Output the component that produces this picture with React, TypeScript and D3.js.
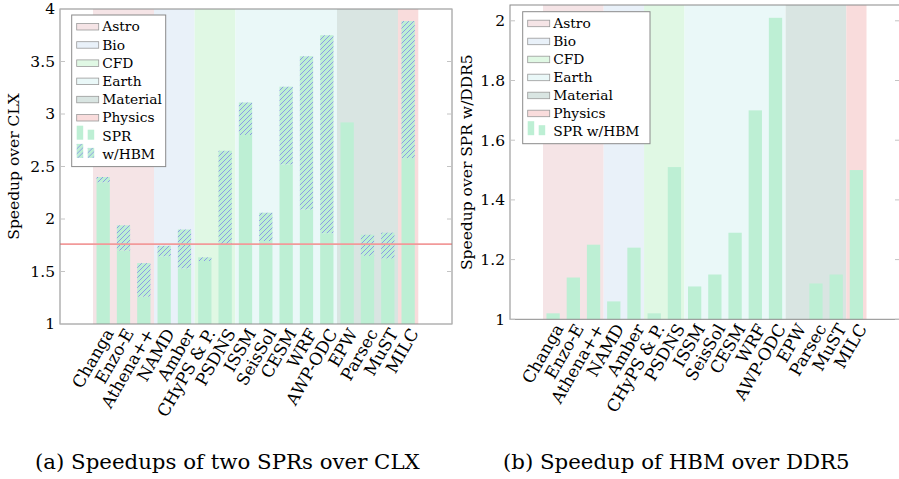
import React from "react";
import * as d3 from "d3";

const categories = ["Changa", "Enzo-E", "Athena++", "NAMD", "Amber", "CHyPS & P.", "PSDNS", "ISSM", "SeisSol", "CESM", "WRF", "AWP-ODC", "EPW", "Parsec", "MuST", "MILC"];
const domains = ["Astro", "Astro", "Astro", "Bio", "Bio", "CFD", "CFD", "Earth", "Earth", "Earth", "Earth", "Earth", "Material", "Material", "Material", "Physics"];
const domainNames = ["Astro", "Bio", "CFD", "Earth", "Material", "Physics"];
const domainColors = ["#f5e4e6", "#e9f1f9", "#e0f8e4", "#eaf8f8", "#d9e5e2", "#f9dcdc"];
const sprValues = [2.35, 1.70, 1.26, 1.645, 1.53, 1.60, 1.755, 2.80, 1.79, 2.52, 2.09, 1.865, 2.92, 1.65, 1.625, 2.58];
const hbmValues = [2.40, 1.94, 1.58, 1.745, 1.90, 1.635, 2.65, 3.11, 2.06, 3.26, 3.55, 3.75, 2.92, 1.85, 1.87, 3.885];
const ratioValues = [1.02, 1.14, 1.25, 1.06, 1.24, 1.02, 1.51, 1.11, 1.15, 1.29, 1.70, 2.01, 1.0, 1.12, 1.15, 1.50];
const leftTicks = [1, 1.5, 2, 2.5, 3, 3.5, 4];
const rightTicks = [1, 1.2, 1.4, 1.6, 1.8, 2];
const refLine = 1.76;

const FONT = "'DejaVu Serif', serif";
const BAR = "#bdefd4";
const HATCH = "#8c9ce4";
const AXIS = "#8a8a8a";
const TICK_FS = 15.5;
const XLAB_FS = 16.8;
const LEG_FS = 13.8;
const CAP_FS = 21.3;

function Panel(props: {
  x0: number; x1: number; yTop: number; yBot: number;
  rangeStart: number; rangeEnd: number;
  yDomain: [number, number]; ticks: number[]; tickFmt: (v: number) => string;
  base: number[]; top: number[] | null; yLabel: string; refV?: number;
  legendX: number; legendY: number; legendW: number; legendStep: number; barLegend: string[];
  caption: string; captionX: number; captionY: number; labelX: number;
}) {
  const p = props;
  const x = d3.scaleBand<string>().domain(categories).range([p.rangeStart, p.rangeEnd]).padding(0);
  const y = d3.scaleLinear().domain(p.yDomain).range([p.yBot, p.yTop]);
  const bw = 13.3;
  const groups: { name: string; start: number; end: number }[] = [];
  domains.forEach((d, i) => {
    const last = groups[groups.length - 1];
    if (last && last.name === d) last.end = i;
    else groups.push({ name: d, start: i, end: i });
  });
  const y0 = p.yDomain[0];
  return (
    <g>
      {groups.map((g) => (
        <rect key={g.name + g.start} x={x(categories[g.start])!} width={x(categories[g.end])! + x.bandwidth() - x(categories[g.start])!}
          y={p.yTop} height={p.yBot - p.yTop} fill={domainColors[domainNames.indexOf(g.name)]} />
      ))}
      {categories.map((c, i) => {
        const cx = x(c)! + x.bandwidth() / 2;
        const b = p.base[i];
        const els = [
          <rect key={c + "b"} x={cx - bw / 2} width={bw} y={y(b)} height={y(y0) - y(b)} fill={BAR} />,
        ];
        if (p.top && p.top[i] > b) {
          els.push(<rect key={c + "t"} x={cx - bw / 2} width={bw} y={y(p.top[i])} height={y(b) - y(p.top[i])} fill="url(#hatch)" />);
        }
        return <g key={c}>{els}</g>;
      })}
      {p.refV !== undefined && (
        <line x1={p.x0} x2={p.x1} y1={y(p.refV)} y2={y(p.refV)} stroke="#f29a9a" strokeWidth={1.8} />
      )}
      <rect x={p.x0} y={p.yTop} width={p.x1 - p.x0} height={p.yBot - p.yTop} fill="none" stroke={AXIS} strokeWidth={1} />
      {p.ticks.map((t) => (
        <g key={t}>
          <line x1={p.x0} x2={p.x0 + 5} y1={y(t)} y2={y(t)} stroke="#c4c4c4" />
          <line x1={p.x1 - 5} x2={p.x1} y1={y(t)} y2={y(t)} stroke="#c4c4c4" />
          <text x={p.x0 - 5} y={y(t)} dy="0.35em" textAnchor="end" fontSize={TICK_FS} fontFamily={FONT}>{p.tickFmt(t)}</text>
        </g>
      ))}
      {categories.map((c) => {
        const cx = x(c)! + x.bandwidth() / 2;
        return (
          <text key={c} transform={`translate(${cx + 11},${p.yBot + 9}) rotate(-60)`} textAnchor="end" fontSize={XLAB_FS} fontFamily={FONT}>{c}</text>
        );
      })}
      <text transform={`translate(${p.labelX},${(p.yTop + p.yBot) / 2}) rotate(-90)`} textAnchor="middle" fontSize={TICK_FS} fontFamily={FONT}>{p.yLabel}</text>
      <g transform={`translate(${p.legendX},${p.legendY})`}>
        <rect x={0} y={0} width={p.legendW} height={p.legendStep * (domainNames.length + p.barLegend.length) + 6} fill="white" stroke={AXIS} />
        {domainNames.map((d, i) => (
          <g key={d} transform={`translate(0,${11.5 + i * p.legendStep})`}>
            <rect x={5} y={-3} width={22} height={6.5} fill={domainColors[i]} stroke="#999" strokeWidth={0.8} />
            <text x={30.5} y={0} dy="0.35em" fontSize={LEG_FS} fontFamily={FONT}>{d}</text>
          </g>
        ))}
        {p.barLegend.map((d, j) => (
          <g key={d} transform={`translate(0,${11.5 + (domainNames.length + j) * p.legendStep})`}>
            <rect x={5} y={-10} width={6.5} height={14} fill={j === 0 ? BAR : "url(#hatch)"} />
            <rect x={16} y={-6} width={6.5} height={10} fill={j === 0 ? BAR : "url(#hatch)"} />
            <text x={30.5} y={0} dy="0.35em" fontSize={LEG_FS} fontFamily={FONT}>{d}</text>
          </g>
        ))}
      </g>
      <text x={p.captionX} y={p.captionY} fontSize={CAP_FS} fontFamily={FONT}>{p.caption}</text>
    </g>
  );
}

export default function App() {
  return (
    <svg width={899} height={479} style={{ position: "absolute", left: 0, top: 0, background: "white" }}>
      <defs>
        <pattern id="hatch" patternUnits="userSpaceOnUse" width={5} height={5}>
          <rect width={5} height={5} fill={BAR} />
          <path d="M-1,1 l2,-2 M0,5 l5,-5 M4,6 l2,-2" stroke={HATCH} strokeWidth={1} />
        </pattern>
      </defs>
      <Panel x0={60} x1={452} yTop={9} yBot={324} rangeStart={93} rangeEnd={418.3}
        yDomain={[1, 4]} ticks={leftTicks} tickFmt={(v) => String(v)}
        base={sprValues} top={hbmValues} yLabel="Speedup over CLX" refV={refLine}
        legendX={71.7} legendY={15} legendW={94} legendStep={18.2} barLegend={["SPR", "w/HBM"]}
        caption="(a) Speedups of two SPRs over CLX" captionX={35} captionY={469} labelX={19} />
      <Panel x0={510} x1={900} yTop={5} yBot={319.3} rangeStart={543} rangeEnd={866.5}
        yDomain={[1, 1 + 314.3 / 298.5]} ticks={rightTicks} tickFmt={(v) => String(v)}
        base={ratioValues} top={null} yLabel="Speedup over SPR w/DDR5"
        legendX={522.7} legendY={11.7} legendW={127.3} legendStep={18} barLegend={["SPR w/HBM"]}
        caption="(b) Speedup of HBM over DDR5" captionX={503} captionY={469} labelX={472} />
    </svg>
  );
}
